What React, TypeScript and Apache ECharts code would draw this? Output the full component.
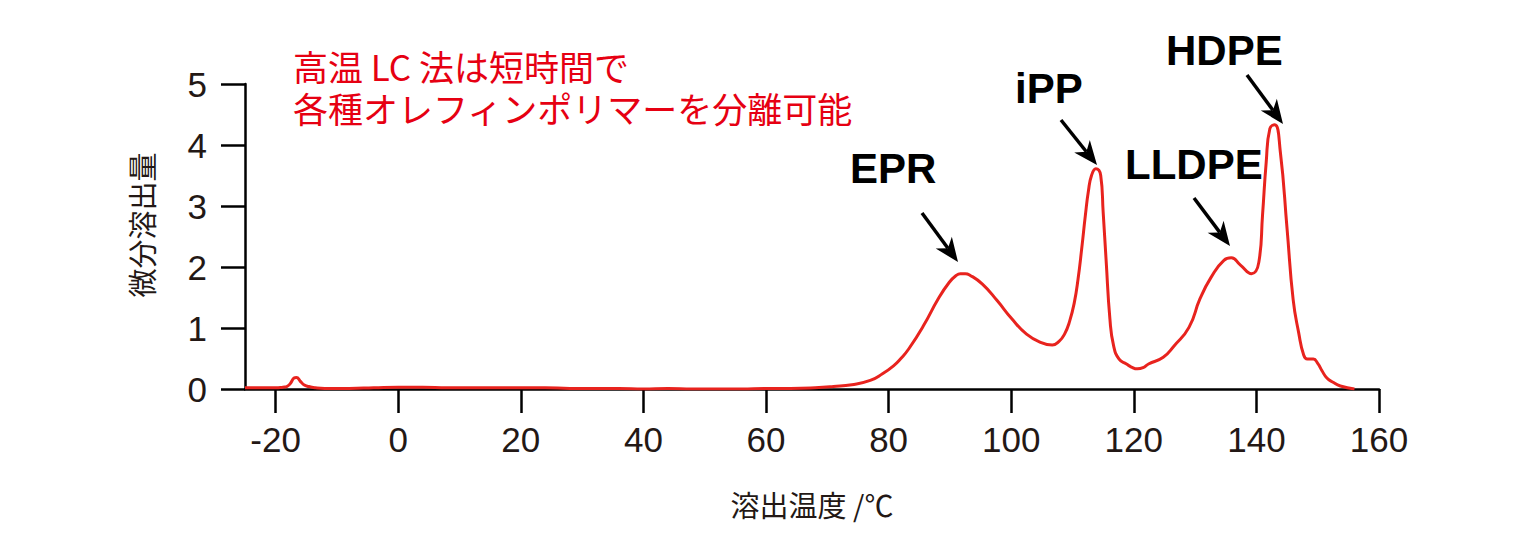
import React, { useEffect, useRef } from "react";
import * as echarts from "echarts";

// Elution temperature (°C) and differential elution amount
const temps = [
  -25, -22, -20, -18.8, -18.2, -17.6, -17.0, -16.6, -16.0, -15.4, -14.6, -13.5, -12, -8, -4, 0, 4, 8, 12, 16, 20,
  24, 28, 32, 36, 40, 44, 48, 52, 56, 60, 64, 68, 71, 74, 77, 79, 80.8, 82, 83.3, 85.7, 88.1, 89.9, 91.0, 91.7,
  92.5, 93.2, 95.3, 97.7, 100.1, 102.5, 104.9, 106.7, 107.8, 108.7, 109.5, 110.3, 110.9, 111.5, 112.1, 112.6,
  113.1, 113.8, 114.6, 115.0, 115.5, 116.1, 116.7, 117.6, 118.8, 119.6, 120.6, 121.5, 122.4, 124.8, 126.6,
  129.0, 130.8, 132.6, 134.7, 135.9, 137.4, 139.2, 140.4, 141.0, 141.6, 142.2, 143.0, 143.9, 145.0, 146.0,
  146.9, 147.7, 148.3, 149.3, 150.0, 150.7, 151.5, 152.5, 153.7, 156.0,
];
const values = [
  0.02, 0.02, 0.02, 0.03, 0.04, 0.09, 0.18, 0.19, 0.13, 0.07, 0.04, 0.02, 0.01, 0.01, 0.02, 0.03, 0.03, 0.02, 0.02,
  0.02, 0.02, 0.02, 0.01, 0.01, 0.01, 0.0, 0.01, 0.0, 0.0, 0.0, 0.01, 0.01, 0.02, 0.04, 0.07, 0.14, 0.25, 0.38,
  0.5, 0.66, 1.04, 1.48, 1.75, 1.86, 1.89, 1.89, 1.87, 1.72, 1.45, 1.15, 0.9, 0.76, 0.72, 0.78, 0.9, 1.1, 1.42,
  1.8, 2.3, 2.85, 3.25, 3.5, 3.61, 3.5, 2.9, 2.08, 1.15, 0.71, 0.49, 0.41, 0.36, 0.33, 0.35, 0.41, 0.52, 0.71,
  1.01, 1.48, 1.83, 2.11, 2.15, 2.03, 1.89, 2.08, 2.85, 3.72, 4.27, 4.33, 3.89, 2.63, 1.46, 0.92, 0.56, 0.49,
  0.49, 0.42, 0.3, 0.18, 0.11, 0.05, 0.0,
];

const xTicks = [-20, 0, 20, 40, 60, 80, 100, 120, 140, 160];
const yTicks = [0, 1, 2, 3, 4, 5];

const xTitle = "溶出温度 /℃";
const yTitle = "微分溶出量";
const noteLines = ["高温 LC 法は短時間で", "各種オレフィンポリマーを分離可能"];

const peakLabels = ["EPR", "iPP", "LLDPE", "HDPE"];
// label left x, label cap-centre y, arrow start (x,y), arrow tip (x,y)
const peakLabelPos = [
  [850, 168, 922, 213, 958, 262],
  [1015, 88, 1061, 120, 1097, 165],
  [1125, 164, 1194, 198, 1230, 246],
  [1166, 50, 1247, 75, 1283, 124],
];

const TEXT = "#231815";
const RED_LINE = "#e8231e";
const RED_TEXT = "#e60012";
const JP = "'Noto Sans CJK JP', 'Noto Sans', sans-serif";
const LAT = "'Liberation Sans', Arial, Helvetica, sans-serif";

function arrow(sx: number, sy: number, tx: number, ty: number) {
  const dx = tx - sx;
  const dy = ty - sy;
  const len = Math.sqrt(dx * dx + dy * dy);
  const ux = dx / len;
  const uy = dy / len;
  const nx = -uy;
  const ny = ux;
  const headLen = 24;
  const headW = 10;
  const notch = 17;
  const bx = tx - ux * headLen;
  const by = ty - uy * headLen;
  const mx = tx - ux * notch;
  const my = ty - uy * notch;
  return [
    {
      type: "line",
      shape: { x1: sx, y1: sy, x2: mx, y2: my },
      style: { stroke: "#000", lineWidth: 3.5 },
      z: 10,
    },
    {
      type: "polygon",
      shape: {
        points: [
          [tx, ty],
          [bx + nx * headW, by + ny * headW],
          [mx, my],
          [bx - nx * headW, by - ny * headW],
        ],
      },
      style: { fill: "#000" },
      z: 10,
    },
  ];
}

export default function App() {
  const ref = useRef<HTMLDivElement>(null);
  useEffect(() => {
    if (!ref.current) return;
    const chart = echarts.init(ref.current, undefined, { renderer: "svg" });
    const data = temps.map((t, i) => [t, values[i]]);

    const graphics: any[] = [];
    graphics.push({
      type: "text",
      x: 141,
      y: 225,
      rotation: Math.PI / 2,
      style: {
        text: yTitle,
        font: `29px ${JP}`,
        fill: TEXT,
        align: "center",
        verticalAlign: "middle",
      },
    });
    graphics.push({
      type: "text",
      x: 293,
      y: 44,
      style: {
        text: noteLines.join("\n"),
        fontFamily: JP,
        fontSize: 35,
        lineHeight: 42,
        fill: RED_TEXT,
        align: "left",
        verticalAlign: "top",
      },
    });
    peakLabels.forEach((t, i) => {
      const p = peakLabelPos[i];
      graphics.push({
        type: "text",
        x: p[0],
        y: p[1],
        style: {
          text: t,
          font: `bold 42px ${LAT}`,
          fill: "#000",
          align: "left",
          verticalAlign: "middle",
        },
        z: 10,
      });
      graphics.push(...arrow(p[2], p[3], p[4], p[5]));
    });

    chart.setOption({
      animation: false,
      backgroundColor: "#ffffff",
      grid: { left: 245, top: 84, width: 1134, height: 305, containLabel: false },
      xAxis: {
        type: "value",
        min: -25,
        max: 160,
        name: xTitle,
        nameLocation: "middle",
        nameGap: 100,
        nameTextStyle: { fontFamily: JP, fontSize: 29, color: TEXT },
        axisLine: { show: true, onZero: false, lineStyle: { color: "#000", width: 2.5 } },
        axisTick: {
          show: true,
          length: 24,
          inside: false,
          customValues: xTicks,
          lineStyle: { color: "#000", width: 2.5 },
        },
        axisLabel: {
          customValues: xTicks,
          margin: 33,
          fontFamily: LAT,
          fontSize: 35,
          color: TEXT,
        },
        splitLine: { show: false },
      },
      yAxis: {
        type: "value",
        min: 0,
        max: 5,
        interval: 1,
        axisLine: { show: true, onZero: false, lineStyle: { color: "#000", width: 2.5 } },
        axisTick: {
          show: true,
          length: 24,
          inside: false,
          customValues: yTicks,
          lineStyle: { color: "#000", width: 2.5 },
        },
        axisLabel: {
          customValues: yTicks,
          margin: 38,
          fontFamily: LAT,
          fontSize: 35,
          color: TEXT,
        },
        splitLine: { show: false },
      },
      series: [
        {
          type: "line",
          data,
          showSymbol: false,
          smooth: 0.5,
          lineStyle: { color: RED_LINE, width: 3 },
          z: 5,
        },
      ],
      graphic: graphics,
    });
    return () => chart.dispose();
  }, []);
  return (
    <div
      ref={ref}
      style={{ position: "absolute", left: 0, top: 0, width: 1533, height: 545, background: "#fff" }}
    />
  );
}
